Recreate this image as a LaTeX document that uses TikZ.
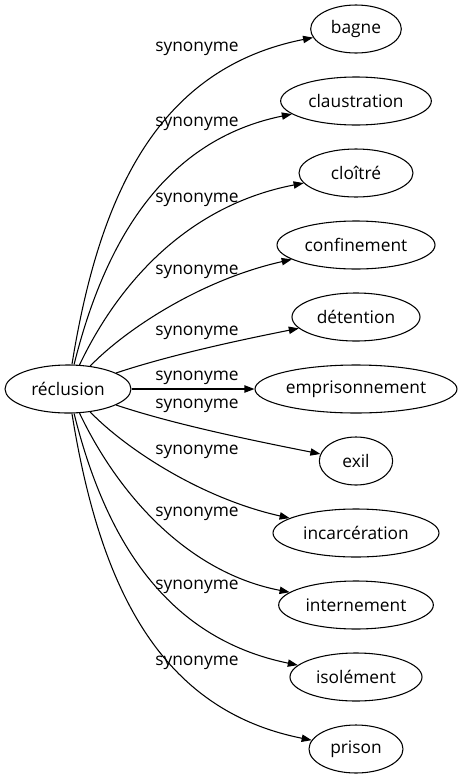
\documentclass[tikz,border=0pt]{standalone}
\usepackage{fontspec}
\setmainfont{Open Sans}
\usetikzlibrary{arrows.meta,shapes.geometric}
\tikzset{
  word/.style={draw, ellipse, line width=0.8pt, inner sep=0pt, minimum height=36pt},
  rel/.style={font=\fontsize{13}{15}\selectfont},
  syn/.style={line width=0.8pt, -{Triangle[length=7.5pt,width=5.5pt]}}
}
\begin{document}
\begin{tikzpicture}[x=0.75pt, y=-0.75pt, font=\fontsize{13}{15}\selectfont]
    \useasboundingbox (0,0) rectangle (462,779);

    % Source word
    \node[word, minimum width=94.5pt] (reclusion) at (68,389) {réclusion};

    % Synonyms
    \node[word, minimum width=68pt] (bagne) at (356,29) {bagne};
    \node[word, minimum width=113pt] (claustration) at (356,101) {claustration};
    \node[word, minimum width=85.5pt] (cloitre) at (356,173) {cloîtré};
    \node[word, minimum width=118.5pt] (confinement) at (356,245) {confinement};
    \node[word, minimum width=96pt] (detention) at (356,317) {détention};
    \node[word, minimum width=151.5pt] (emprisonnement) at (356,389) {emprisonnement};
    \node[word, minimum width=55pt] (exil) at (356,461) {exil};
    \node[word, minimum width=124.5pt] (incarceration) at (356,533) {incarcération};
    \node[word, minimum width=116pt] (internement) at (356,605) {internement};
    \node[word, minimum width=99pt] (isolement) at (356,677) {isolément};
    \node[word, minimum width=70.5pt] (prison) at (356,749) {prison};

    % Edges
    \draw[syn] (reclusion) .. controls (100,190) and (160,68) .. (bagne);
    \draw[syn] (reclusion) .. controls (105,240) and (165,140) .. (claustration);
    \draw[syn] (reclusion) .. controls (120,280) and (190,205) .. (cloitre);
    \draw[syn] (reclusion) .. controls (125,330) and (200,280) .. (confinement);
    \draw[syn] (reclusion) .. controls (170,355) and (240,340) .. (detention);
    \draw[syn] (reclusion) -- (emprisonnement);
    \draw[syn] (reclusion) .. controls (170,423) and (240,438) .. (exil);
    \draw[syn] (reclusion) .. controls (125,448) and (200,498) .. (incarceration);
    \draw[syn] (reclusion) .. controls (120,498) and (190,573) .. (internement);
    \draw[syn] (reclusion) .. controls (105,538) and (165,638) .. (isolement);
    \draw[syn] (reclusion) .. controls (100,588) and (160,710) .. (prison);

    % Edge labels
    \node[rel] (l1) at (197,49) {synonyme};
    \node[rel] (l2) at (197,124) {synonyme};
    \node[rel] (l3) at (197,200) {synonyme};
    \node[rel] (l4) at (197,272) {synonyme};
    \node[rel] (l5) at (197,333) {synonyme};
    \node[rel] (l6) at (197,378) {synonyme};
    \node[rel] (l7) at (197,406) {synonyme};
    \node[rel] (l8) at (197,452) {synonyme};
    \node[rel] (l9) at (197,514) {synonyme};
    \node[rel] (l10) at (197,587) {synonyme};
    \node[rel] (l11) at (197,663) {synonyme};
\end{tikzpicture}
\end{document}
